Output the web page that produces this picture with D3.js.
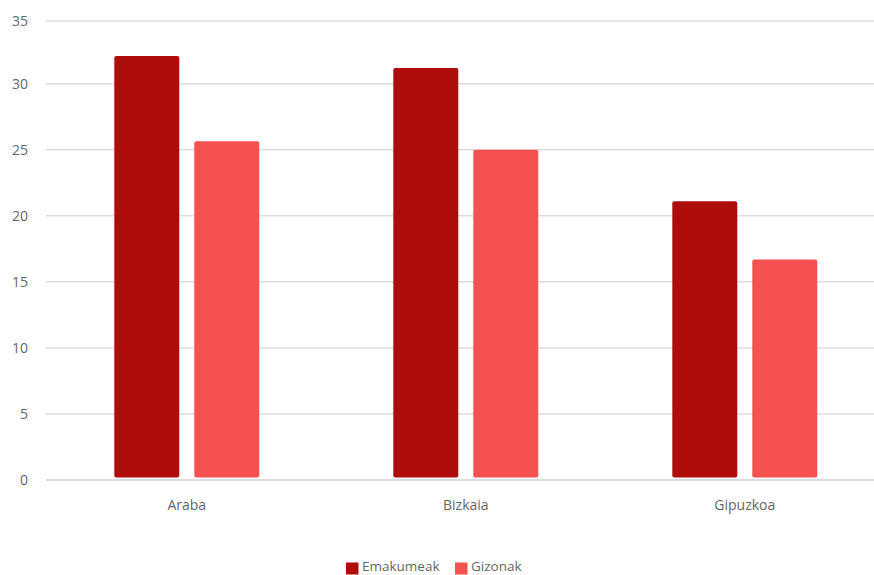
<!DOCTYPE html>
<html><head><meta charset="utf-8">
<script src="https://cdn.jsdelivr.net/npm/d3@7"></script>
<style>body{margin:0;background:#fff;} svg{display:block;font-family:"Open Sans",sans-serif;}</style>
</head><body>
<svg id="c" width="874" height="575"></svg>
<script>
const categories = ["Araba", "Bizkaia", "Gipuzkoa"];
const seriesNames = ["Emakumeak", "Gizonak"];
const emakumeak = [32.1, 31.2, 21.1];
const gizonak = [25.65, 25.0, 16.7];
const yTicks = [0, 5, 10, 15, 20, 25, 30, 35];
const colors = ["#AF0C0C", "#F55151"];

const values = [emakumeak, gizonak];
const svg = d3.select("#c");
const W = 874, H = 575;
const y = d3.scaleLinear().domain([0, 35]).range([480, 17.7]);
const x0 = d3.scaleBand().domain(categories).range([47.3, 884.3]).padding(0);
const x1 = d3.scaleBand().domain(seriesNames).range([-72.5, 72.5]).paddingInner(0.1875).paddingOuter(0);
const gy = d => Math.max(y(d), 21);

// grid
svg.append("g").selectAll("line").data(yTicks).join("line")
  .attr("x1", 46).attr("x2", W)
  .attr("y1", gy).attr("y2", gy)
  .attr("stroke", "#dcdcdc").attr("stroke-width", d => d === 0 ? 2 : 1.5);

// y labels
svg.append("g").selectAll("text").data(yTicks).join("text")
  .attr("x", 28).attr("y", gy).attr("dy", "0.35em")
  .attr("text-anchor", "end").attr("fill", "#666").attr("font-size", 14)
  .text(d => d);

// bars
const g = svg.append("g").selectAll("g").data(categories).join("g")
  .attr("transform", d => `translate(${x0(d) + x0.bandwidth() / 2},0)`);
g.selectAll("rect").data((d, i) => seriesNames.map((s, j) => ({s, v: values[j][i]}))).join("rect")
  .attr("x", d => x1(d.s)).attr("width", x1.bandwidth())
  .attr("y", d => y(d.v)).attr("height", d => y(0) - 2.5 - y(d.v))
  .attr("rx", 2).attr("fill", (d, j) => colors[j]);

// x labels
svg.append("g").selectAll("text").data(categories).join("text")
  .attr("x", d => x0(d) + x0.bandwidth() / 2).attr("y", 510)
  .attr("text-anchor", "middle").attr("fill", "#666").attr("font-size", 14)
  .text(d => d);

// legend
const leg = svg.append("g");
const legX = [346, 455];
seriesNames.forEach((s, i) => {
  leg.append("rect").attr("x", legX[i]).attr("y", 562.5).attr("width", 12.5).attr("height", 12)
    .attr("fill", colors[i]);
  leg.append("text").attr("x", legX[i] + 16).attr("y", 566.5).attr("dy", "0.35em")
    .attr("fill", "#666").attr("font-size", 13.5).text(s);
});
</script>
</body></html>
